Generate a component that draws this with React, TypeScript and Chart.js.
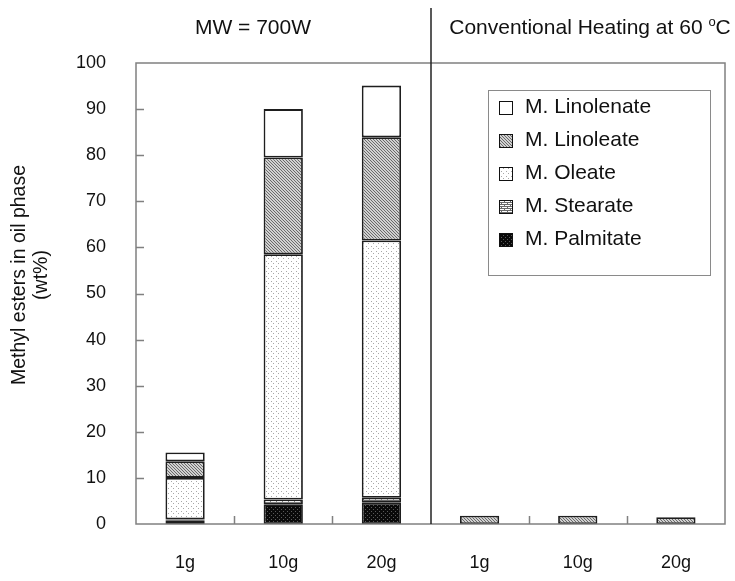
import React, { useEffect, useRef } from 'react';
import { Chart, registerables } from 'chart.js';

Chart.register(...registerables);

const categories = ['1g', '10g', '20g', '1g', '10g', '20g'];
const groupLabels = ['MW = 700W', 'Conventional Heating at 60 '];
const yTitleLines = ['Methyl esters in oil phase', '(wt%)'];
const seriesNames = ['M. Palmitate', 'M. Stearate', 'M. Oleate', 'M. Linoleate', 'M. Linolenate'];
const palmitate = [0.7, 4.3, 4.6, null, null, null];
const stearate = [0.3, 1.0, 1.1, null, null, null];
const oleate = [9.0, 53.2, 55.8, null, null, null];
const linoleate = [3.6, 21.0, 22.4, 1.8, 1.8, 1.45];
const linolenate = [1.9, 10.5, 11.2, null, null, null];
const yMin = 0;
const yMax = 100;
const yStep = 10;

const FONT = '"Liberation Sans", Arial, sans-serif';

function makePattern(w: number, h: number, bg: string, fg: string, pts: number[][]) {
  const c = document.createElement('canvas');
  c.width = w;
  c.height = h;
  const g = c.getContext('2d')!;
  g.fillStyle = bg;
  g.fillRect(0, 0, w, h);
  g.fillStyle = fg;
  pts.forEach(([x, y]) => g.fillRect(x, y, 1, 1));
  const ctx = document.createElement('canvas').getContext('2d')!;
  return ctx.createPattern(c, 'repeat') as CanvasPattern;
}

export default function App() {
  const ref = useRef<HTMLCanvasElement | null>(null);

  useEffect(() => {
    const canvas = ref.current!;
    const pPalm = makePattern(4, 4, '#0a0a0a', '#5a5a5a', [[1, 1], [3, 3]]);
    const pStear = makePattern(6, 4, '#ffffff', '#6a6a6a', [
      [0, 0], [1, 0], [2, 0], [3, 0], [4, 0], [5, 0], [0, 1],
      [0, 2], [1, 2], [2, 2], [3, 2], [4, 2], [5, 2], [3, 3],
    ]);
    const pOle = makePattern(5, 5, '#ffffff', '#a8a8a8', [[1, 1], [3, 3]]);
    const pLinol = makePattern(3, 3, '#d0d0d0', '#6a6a6a', [[0, 0], [1, 1], [2, 2]]);
    const pLinolen = '#ffffff';
    const fills = [pPalm, pStear, pOle, pLinol, pLinolen];
    const values = [palmitate, stearate, oleate, linoleate, linolenate];

    const deco = {
      id: 'deco',
      afterDraw(chart: any) {
        const { ctx, chartArea: a, scales } = chart;
        const xs = scales.x;
        const ys = scales.y;
        ctx.save();
        // frame
        ctx.strokeStyle = '#808080';
        ctx.lineWidth = 1.5;
        ctx.strokeRect(a.left, a.top, a.right - a.left, a.bottom - a.top);
        // inward y ticks
        ctx.beginPath();
        for (let v = yMin + yStep; v < yMax; v += yStep) {
          const y = Math.round(ys.getPixelForValue(v)) + 0.5;
          ctx.moveTo(a.left, y);
          ctx.lineTo(a.left + 8, y);
        }
        // inward x ticks
        [0, 1, 3, 4].forEach((i) => {
          const x = Math.round((xs.getPixelForValue(i) + xs.getPixelForValue(i + 1)) / 2) + 0.5;
          ctx.moveTo(x, a.bottom);
          ctx.lineTo(x, a.bottom - 8);
        });
        ctx.stroke();
        // divider
        const dx = Math.round((xs.getPixelForValue(2) + xs.getPixelForValue(3)) / 2);
        ctx.strokeStyle = '#222';
        ctx.lineWidth = 1.5;
        ctx.beginPath();
        ctx.moveTo(dx, 8);
        ctx.lineTo(dx, a.bottom);
        ctx.stroke();

        // group labels
        ctx.fillStyle = '#111';
        ctx.textBaseline = 'middle';
        ctx.font = `21px ${FONT}`;
        ctx.textAlign = 'center';
        ctx.fillText(groupLabels[0], 253, 28);
        // conventional with superscript o
        const main = groupLabels[1];
        ctx.font = `21px ${FONT}`;
        const w1 = ctx.measureText(main).width;
        const wC = ctx.measureText('C').width;
        ctx.font = `13px ${FONT}`;
        const wo = ctx.measureText('o').width;
        const total = w1 + wo + wC;
        const cx = 590;
        let x0 = cx - total / 2;
        ctx.textAlign = 'left';
        ctx.font = `21px ${FONT}`;
        ctx.fillText(main, x0, 28);
        x0 += w1;
        ctx.font = `13px ${FONT}`;
        ctx.fillText('o', x0, 22);
        x0 += wo;
        ctx.font = `21px ${FONT}`;
        ctx.fillText('C', x0, 28);

        // y title
        ctx.save();
        ctx.translate(20, 275);
        ctx.rotate(-Math.PI / 2);
        ctx.textAlign = 'center';
        ctx.font = `19.5px ${FONT}`;
        ctx.fillText(yTitleLines[0], 0, 0);
        ctx.fillText(yTitleLines[1], 0, 22);
        ctx.restore();

        // legend
        ctx.strokeStyle = '#8a8a8a';
        ctx.lineWidth = 1;
        ctx.strokeRect(488.5, 90.5, 222, 185);
        ctx.font = `21px ${FONT}`;
        ctx.textAlign = 'left';
        ctx.textBaseline = 'middle';
        for (let k = 0; k < 5; k++) {
          const idx = 4 - k;
          const cy = 107 + k * 33;
          ctx.fillStyle = fills[idx] as any;
          ctx.fillRect(499, cy - 6, 14, 14);
          ctx.strokeStyle = '#111';
          ctx.lineWidth = 1;
          ctx.strokeRect(499.5, cy - 5.5, 13, 13);
          ctx.fillStyle = '#111';
          ctx.fillText(seriesNames[idx], 525, cy);
        }
        ctx.restore();
      },
    };

    const chart = new Chart(canvas, {
      type: 'bar',
      data: {
        labels: categories,
        datasets: values.map((d, i) => ({
          label: seriesNames[i],
          data: d as any,
          backgroundColor: fills[i] as any,
          borderColor: '#1e1e1e',
          borderWidth: 1.8,
          borderSkipped: false,
          barPercentage: 0.4,
          categoryPercentage: 1,
        })),
      },
      options: {
        responsive: false,
        animation: false,
        devicePixelRatio: 1,
        layout: { padding: { top: 63, right: 10, left: 0, bottom: 0 } },
        plugins: { legend: { display: false }, tooltip: { enabled: false } },
        scales: {
          x: {
            stacked: true,
            grid: { display: false, drawTicks: false },
            border: { display: false },
            ticks: { color: '#111', font: { size: 18, family: FONT }, padding: 28, maxRotation: 0 },
            afterFit: (s: any) => { s.height = 57; },
          },
          y: {
            stacked: true,
            min: yMin,
            max: yMax,
            grid: { display: false, drawTicks: false },
            border: { display: false },
            ticks: { stepSize: yStep, color: '#111', font: { size: 18, family: FONT }, padding: 30 },
            afterFit: (s: any) => { s.width = 136; },
          },
        },
      },
      plugins: [deco],
    });
    return () => chart.destroy();
  }, []);

  return (
    <div style={{ position: 'absolute', left: 0, top: 0, width: 735, height: 581, background: '#fff' }}>
      <canvas ref={ref} width={735} height={581} style={{ display: 'block' }} />
    </div>
  );
}
